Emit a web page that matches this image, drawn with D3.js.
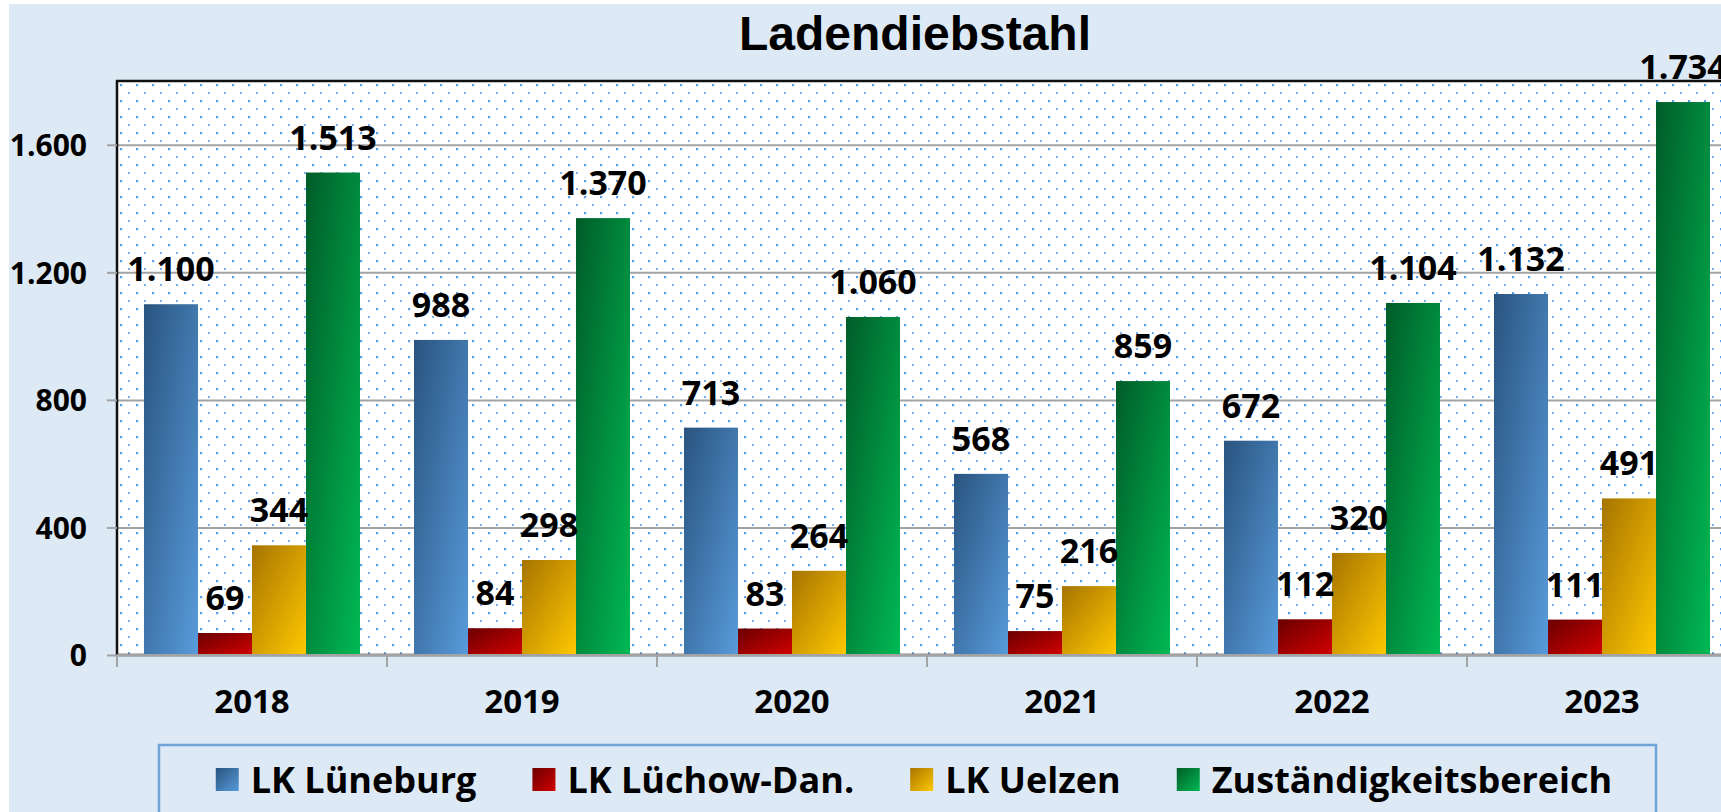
<!DOCTYPE html>
<html>
<head>
<meta charset="utf-8">
<script src="https://cdn.jsdelivr.net/npm/d3@7"></script>
<style>
  body { margin: 0; background: #ffffff; overflow: hidden; }
  text { font-family: "Open Sans", "Noto Sans", sans-serif; font-weight: 700; fill: #000; }
</style>
</head>
<body>
<div id="chart"></div>
<script>
var width = 1721,
  height = 812;

// data
var years = ["2018", "2019", "2020", "2021", "2022", "2023"];
var seriesNames = ["LK Lüneburg", "LK Lüchow-Dan.", "LK Uelzen", "Zuständigkeitsbereich"];
var lueneburg = [1100, 988, 713, 568, 672, 1132];
var luechow = [69, 84, 83, 75, 112, 111];
var uelzen = [344, 298, 264, 216, 320, 491];
var zustaendig = [1513, 1370, 1060, 859, 1104, 1734];
var yTicks = [0, 400, 800, 1200, 1600];
var yMax = 1800;

// gradient colours per series (dark top-left -> light bottom-right)
var gradColors = [
  ["#29547f", "#589bdb"],
  ["#6a0000", "#d20000"],
  ["#a67400", "#ffc800"],
  ["#005c28", "#00b954"],
];

var allSeries = [lueneburg, luechow, uelzen, zustaendig];
var table = years.map(function (yr, i) {
  return { year: yr, values: allSeries.map(function (s) { return s[i]; }) };
});

var de = d3.formatLocale({ decimal: ",", thousands: ".", grouping: [3], currency: ["", " €"] });
var fmt = de.format(",d");

var margin = { left: 117, top: 81, right: -16, bottom: 157 };
var plotW = width - margin.left - margin.right,
  plotH = height - margin.top - margin.bottom;

var svg = d3.select("#chart").append("svg")
  .attr("width", width)
  .attr("height", height);

var defs = svg.append("defs");
gradColors.forEach(function (c, i) {
  var g = defs.append("linearGradient")
    .attr("id", "grad" + i)
    .attr("x1", 0).attr("y1", 0).attr("x2", 1).attr("y2", 1);
  g.append("stop").attr("offset", "0%").attr("stop-color", c[0]);
  g.append("stop").attr("offset", "100%").attr("stop-color", c[1]);
});

// dotted plot area fill
var pat = defs.append("pattern")
  .attr("id", "dots")
  .attr("patternUnits", "userSpaceOnUse")
  .attr("width", 16).attr("height", 16);
pat.append("rect").attr("width", 16).attr("height", 16).attr("fill", "#ffffff");
pat.append("rect").attr("x", 3).attr("y", 3).attr("width", 2.2).attr("height", 2.2).attr("fill", "#5d9de4");
pat.append("rect").attr("x", 11).attr("y", 11).attr("width", 2).attr("height", 2).attr("fill", "#78aee9");

// chart background
svg.append("rect")
  .attr("x", 9).attr("y", 4)
  .attr("width", width - 9).attr("height", height - 4)
  .attr("fill", "#dde9f5");

// title
svg.append("text")
  .attr("x", 915).attr("y", 33)
  .attr("text-anchor", "middle")
  .attr("dominant-baseline", "central")
  .style("font-family", "'Liberation Sans', Arial, sans-serif")
  .style("font-size", "48px")
  .text("Ladendiebstahl");

var g = svg.append("g").attr("transform", "translate(" + margin.left + "," + margin.top + ")");

var x0 = d3.scaleBand().domain(years).range([0, plotW]).paddingInner(0).paddingOuter(0);
var x1 = d3.scaleBand().domain(d3.range(seriesNames.length))
  .range([x0.bandwidth() * 0.1, x0.bandwidth() * 0.9]);
var y = d3.scaleLinear().domain([0, yMax]).range([plotH, 0]);

// plot area
g.append("rect")
  .attr("width", plotW).attr("height", plotH)
  .attr("fill", "url(#dots)");

// gridlines
g.append("g")
  .attr("class", "grid")
  .call(d3.axisLeft(y).tickValues(yTicks.slice(1)).tickSize(-plotW).tickFormat(""))
  .call(function (a) {
    a.select(".domain").remove();
    a.selectAll("line").attr("stroke", "#a3a3a3").attr("stroke-width", 2);
  });

// plot border
g.append("rect")
  .attr("width", plotW).attr("height", plotH)
  .attr("fill", "none")
  .attr("stroke", "#111")
  .attr("stroke-width", 2.5);

// bars
var groups = g.selectAll(".year")
  .data(table)
  .enter().append("g")
  .attr("class", "year")
  .attr("transform", function (d) { return "translate(" + x0(d.year) + ",0)"; });

groups.selectAll("rect")
  .data(function (d) { return d.values; })
  .enter().append("rect")
  .attr("x", function (d, i) { return x1(i); })
  .attr("y", function (d) { return y(d); })
  .attr("width", x1.bandwidth())
  .attr("height", function (d) { return plotH - y(d); })
  .attr("fill", function (d, i) { return "url(#grad" + i + ")"; });

groups.selectAll(".lbl")
  .data(function (d) { return d.values; })
  .enter().append("text")
  .attr("class", "lbl")
  .attr("x", function (d, i) { return x1(i) + x1.bandwidth() / 2; })
  .attr("y", function (d) { return y(d) - 23; })
  .attr("text-anchor", "middle")
  .style("font-size", "34px")
  .text(function (d) { return fmt(d); });

// y axis
g.append("g")
  .call(d3.axisLeft(y).tickValues(yTicks).tickSize(10).tickPadding(20).tickFormat(fmt))
  .call(function (a) {
    a.select(".domain").remove();
    a.selectAll("line").attr("stroke", "#a3a3a3").attr("stroke-width", 2);
    a.selectAll("text").style("font-size", "30px").attr("dy", "0.36em");
  });

// x axis line and category ticks
g.append("line")
  .attr("x1", 0).attr("x2", plotW)
  .attr("y1", plotH).attr("y2", plotH)
  .attr("stroke", "#a3a3a3").attr("stroke-width", 2);

g.selectAll(".cattick")
  .data(years.concat(["end"]))
  .enter().append("line")
  .attr("class", "cattick")
  .attr("x1", function (d) { return d === "end" ? plotW : x0(d); })
  .attr("x2", function (d) { return d === "end" ? plotW : x0(d); })
  .attr("y1", plotH).attr("y2", plotH + 12)
  .attr("stroke", "#a3a3a3").attr("stroke-width", 2);

g.append("g")
  .attr("transform", "translate(0," + plotH + ")")
  .call(d3.axisBottom(x0).tickSize(0).tickPadding(35))
  .call(function (a) {
    a.select(".domain").remove();
    a.selectAll("text").style("font-size", "33px");
  });

// legend
svg.append("rect")
  .attr("x", 159).attr("y", 745)
  .attr("width", 1497).attr("height", 100)
  .attr("fill", "#dde9f5")
  .attr("stroke", "#6ea3dc")
  .attr("stroke-width", 2.5);

var legend = svg.append("g");
var items = legend.selectAll(".item")
  .data(seriesNames)
  .enter().append("g")
  .attr("class", "item");
items.append("rect")
  .attr("width", 23).attr("height", 23)
  .attr("y", 768)
  .attr("fill", function (d, i) { return "url(#grad" + i + ")"; });
items.append("text")
  .attr("x", 35).attr("y", 793)
  .style("font-size", "36px")
  .text(function (d) { return d; });

// lay the items out side by side, centred in the box
var gap = 56, widths = [];
items.each(function () {
  widths.push(35 + d3.select(this).select("text").node().getComputedTextLength());
});
var total = d3.sum(widths) + gap * (widths.length - 1);
var cx = 914 - total / 2;
items.attr("transform", function (d, i) {
  var pos = cx;
  cx += widths[i] + gap;
  return "translate(" + pos + ",0)";
});
</script>
</body>
</html>
